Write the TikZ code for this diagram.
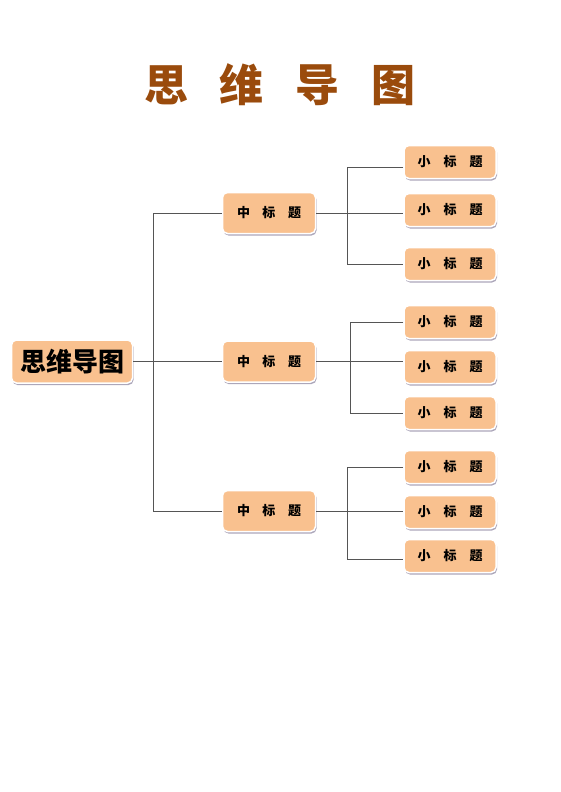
\documentclass[tikz,border=0pt]{standalone}
\usepackage{fontspec}
\setmainfont{Noto Sans CJK SC}
\usetikzlibrary{shadows}
\definecolor{peach}{HTML}{F9C18F}
\definecolor{titlebrown}{HTML}{9A4B0C}
\definecolor{wire}{HTML}{555555}
\definecolor{shade}{HTML}{A39DB3}
\begin{document}
\begin{tikzpicture}[x=1pt, y=-1pt,
	box/.style={rectangle, rounded corners=5pt, fill=peach, draw=white, line width=1.5pt,
		drop shadow={shadow xshift=1pt, shadow yshift=-2pt, fill=shade, opacity=0.9}, inner sep=0pt},
	rootbox/.style={box, minimum width=121pt, minimum height=43pt, font=\fontsize{26}{26}\bfseries\selectfont},
	midbox/.style={box, minimum width=93pt, minimum height=41pt, font=\fontsize{13}{13}\bfseries\selectfont},
	leafbox/.style={box, minimum width=92pt, minimum height=33pt, font=\fontsize{13}{13}\bfseries\selectfont},
	wire/.style={draw=wire, line width=0.8pt}]

	\useasboundingbox (0,0) rectangle (560,792);

	% title
	\node (title) at (280,85) [text=titlebrown, font=\fontsize{44}{44}\bfseries\selectfont]
	{思\hspace{32pt}维\hspace{32pt}导\hspace{32pt}图};

	% bus lines
	\coordinate (bus) at (153,0);
	\coordinate (bus-a) at (347,0);
	\coordinate (bus-b) at (350,0);
	\coordinate (bus-c) at (347,0);

	\node [rootbox] (root) at (72,361.5) {思维导图};
	\node [midbox] (mid-a) at (269,213) {中\hspace{12.5pt}标\hspace{12.5pt}题};
	\node [midbox] (mid-b) at (269,361.5) {中\hspace{12.5pt}标\hspace{12.5pt}题};
	\node [midbox] (mid-c) at (269,511) {中\hspace{12.5pt}标\hspace{12.5pt}题};

	\foreach \name/\y in {a1/162, a2/210, a3/264, b1/322, b2/367, b3/413, c1/467, c2/512, c3/556}
		\node [leafbox] (leaf-\name) at (450,\y) {小\hspace{13pt}标\hspace{13pt}题};

	\draw [wire] (root.east) -- (mid-b.west);
	\draw [wire] (mid-a.west) -- (mid-a.west -| bus) -- (mid-c.west -| bus) -- (mid-c.west);

	\draw [wire] (mid-a.east) -- (mid-a.east -| leaf-a2.west);
	\draw [wire] ([yshift=-5pt]leaf-a1.west) -- ([yshift=-5pt]leaf-a1.west -| bus-a)
		-- (leaf-a3.west -| bus-a) -- (leaf-a3.west);
	\draw [wire] (mid-b.east) -- (mid-b.east -| leaf-b2.west);
	\draw [wire] (leaf-b1.west) -- (leaf-b1.west -| bus-b)
		-- (leaf-b3.west -| bus-b) -- (leaf-b3.west);
	\draw [wire] (mid-c.east) -- (mid-c.east -| leaf-c2.west);
	\draw [wire] (leaf-c1.west) -- (leaf-c1.west -| bus-c)
		-- ([yshift=-3pt]leaf-c3.west -| bus-c) -- ([yshift=-3pt]leaf-c3.west);

\end{tikzpicture}
\end{document}
